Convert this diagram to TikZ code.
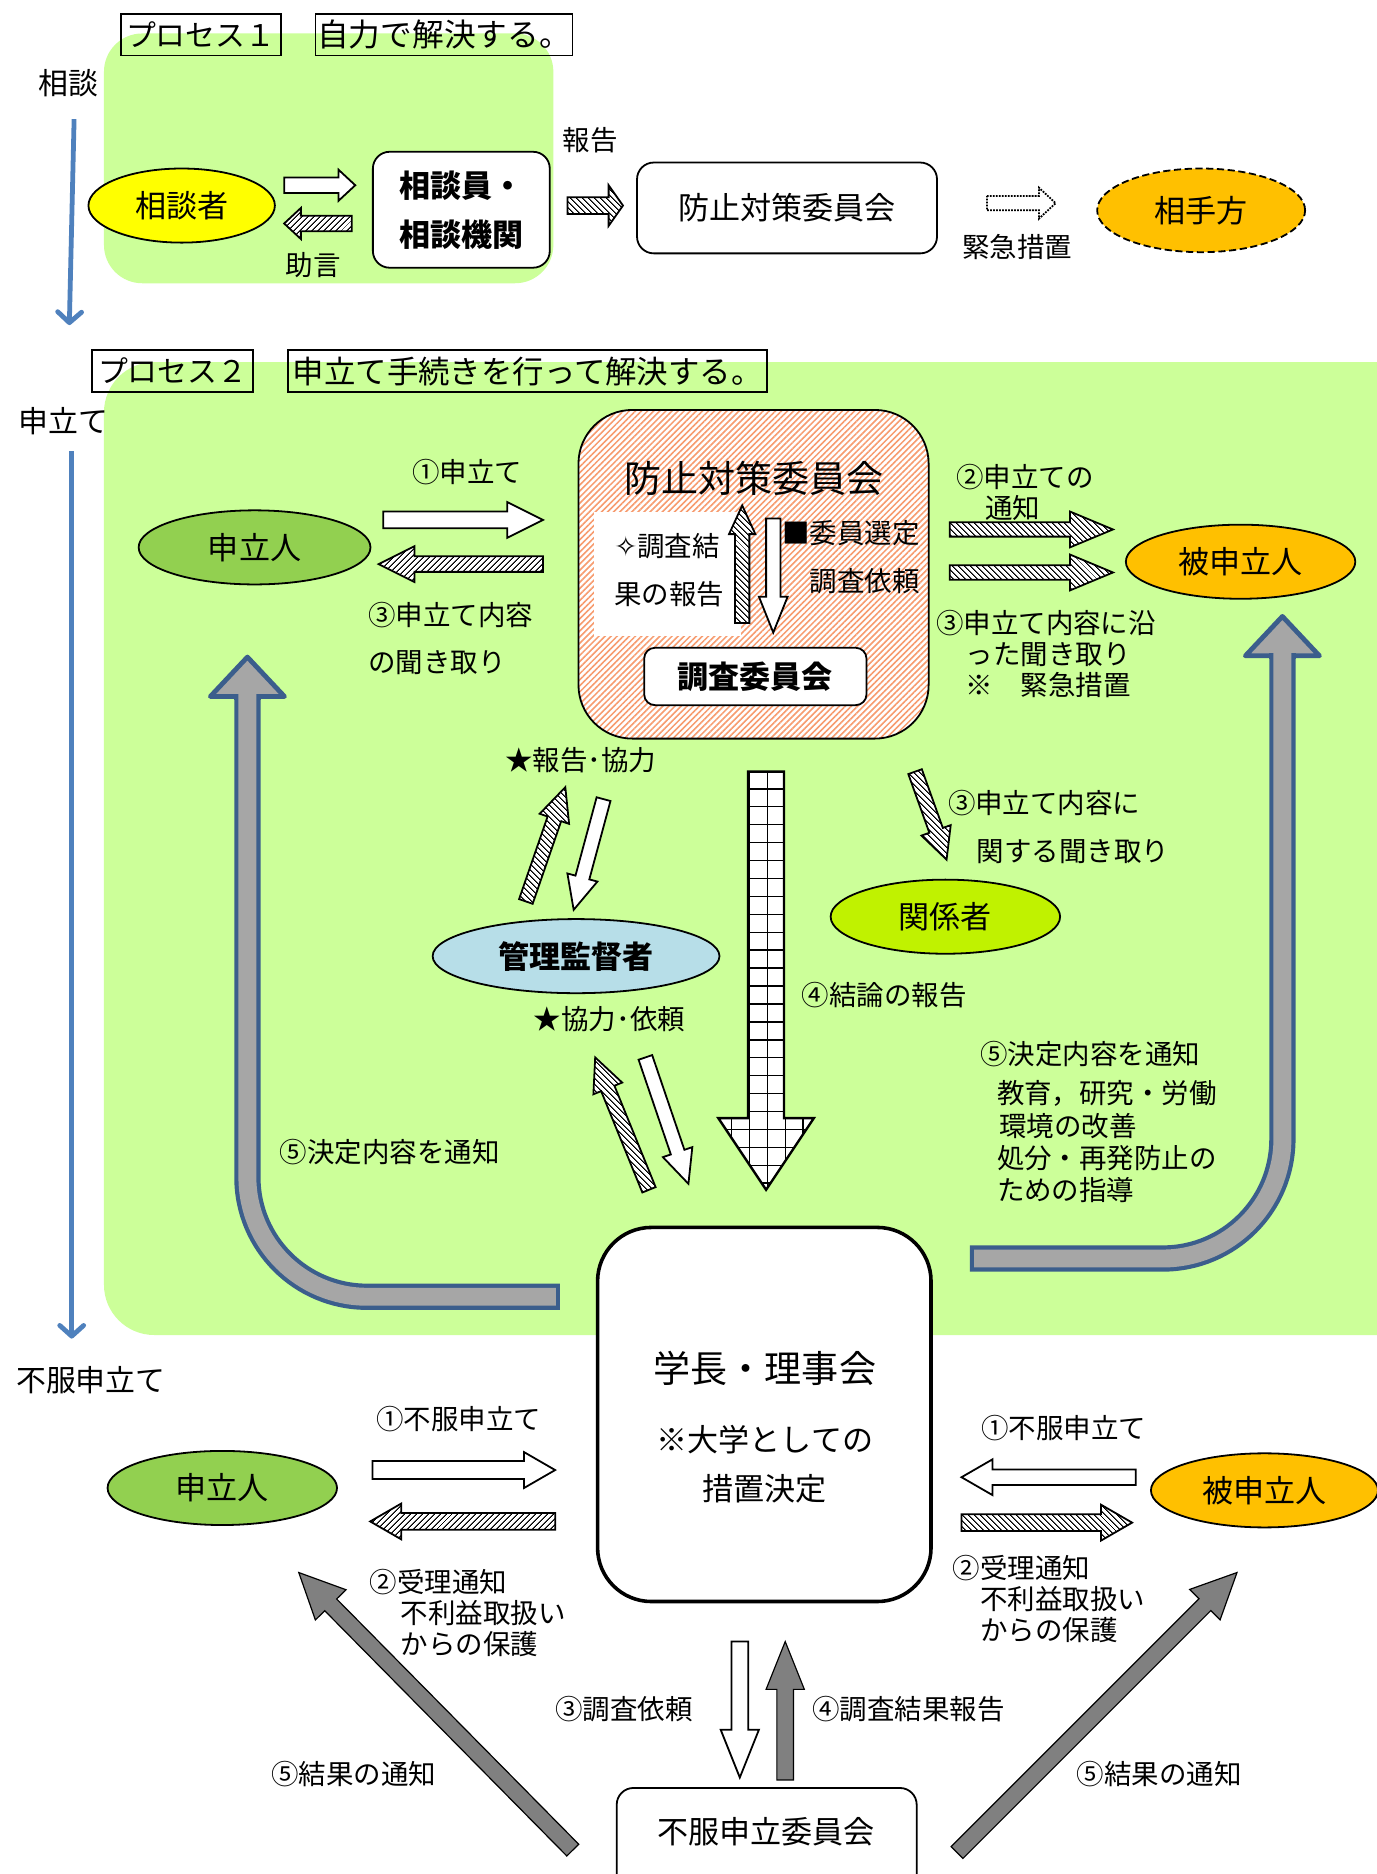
\documentclass[tikz,border=0pt]{standalone}
\usepackage{fontspec}
\setmainfont{Noto Sans CJK JP}
\newfontfamily\symfont{DejaVu Sans}
\usepackage[HTML]{xcolor}
\usepackage{tikz}
\usetikzlibrary{positioning, calc, shapes.geometric, patterns.meta, arrows.meta}

\definecolor{bggreen}{HTML}{CCFF99}
\definecolor{flowblue}{HTML}{4F81BD}
\definecolor{applgreen}{HTML}{92D050}
\definecolor{respyellow}{HTML}{FFC000}
\definecolor{consyellow}{HTML}{FFFF00}
\definecolor{supblue}{HTML}{B7DEE8}
\definecolor{relgreen}{HTML}{C0F200}
\definecolor{hatchorange}{HTML}{F79B6E}
\definecolor{curvegray}{HTML}{A6A6A6}
\definecolor{curveedge}{HTML}{3B5E8C}
\definecolor{notegray}{HTML}{808080}

\tikzset{
  note/.style={font=\fontsize{23}{27}\selectfont, inner sep=0pt, align=left},
  stage/.style={font=\fontsize{25}{30}\selectfont, inner sep=0pt},
  tagbox/.style={draw, line width=1.5pt, inner sep=0pt, minimum height=35pt, font=\fontsize{25}{30}\selectfont},
  actor/.style={ellipse, draw, line width=1.5pt, inner sep=0pt, minimum width=192pt, minimum height=62pt, font=\fontsize{26}{30}\selectfont},
  panel/.style={draw, line width=1.5pt, rounded corners=14pt, fill=white, inner sep=0pt, font=\fontsize{26}{41}\selectfont},
  flow/.style={flowblue, line width=4pt, -{Straight Barb[round, length=9pt, width=20pt]}},
  plainarrow/.style={draw, line width=1.5pt, fill=white},
  hatchNE/.style={draw, line width=1.5pt, preaction={fill=white}, pattern={Lines[angle=45, distance=4pt, line width=1pt]}},
  hatchNW/.style={draw, line width=1.5pt, preaction={fill=white}, pattern={Lines[angle=-45, distance=4pt, line width=1pt]}},
  darkarrow/.style={draw, line width=1pt, fill=notegray},
  curveout/.style={curveedge, line width=22pt, rounded corners=100pt},
  curvein/.style={curvegray, line width=15pt, rounded corners=100pt},
}

% block arrow: from, to, head length; then outline with half shaft, half head
\newcommand\arrowpts[3]{%
  \coordinate (ba-s) at (#1);
  \coordinate (ba-e) at (#2);
  \coordinate (ba-q) at ($(ba-e)!#3!(ba-s)$);}
\newcommand\arrowoutline[2]{($(ba-s)!#1!90:(ba-e)$) -- ($(ba-q)!#1!-90:(ba-s)$) -- ($(ba-q)!#2!-90:(ba-s)$) -- (ba-e) -- ($(ba-q)!#2!90:(ba-s)$) -- ($(ba-q)!#1!90:(ba-s)$) -- ($(ba-s)!#1!-90:(ba-e)$) -- cycle}
\newcommand\blockarrow[6][plainarrow]{%
  \arrowpts{#2}{#3}{#6}
  \path[#1] \arrowoutline{#4}{#5};}

\begin{document}
\begin{tikzpicture}[x=1pt, y=-1pt]
\clip (0,0) rectangle (1152,1568);
\fill[white] (0,0) rectangle (1152,1568);

% --- Process 1 ---
\fill[bggreen, rounded corners=32pt] (87,28) rectangle (463,237);
\node[tagbox, minimum width=134pt] (tag1) at (168,29) {プロセス１};
\node[tagbox, minimum width=215pt, font=\fontsize{26.5}{30}\selectfont] (goal1) at (371.5,29) {自力で解決する。};
\node[stage] (stageA) at (57,70) {相談};

\node[actor, fill=consyellow, minimum width=156pt] (consultant) at (152,172) {相談者};
\node[panel, minimum width=148pt, minimum height=97pt, align=left, font=\fontsize{26}{41}\selectfont\bfseries] (counselor) at (386,175.5) {相談員・\\相談機関};
\node[panel, minimum width=251pt, minimum height=76pt] (committee1) at (658.5,174) {防止対策委員会};
\node[actor, fill=respyellow, dash pattern=on 6pt off 3pt, minimum width=174pt, minimum height=70pt] (opponent) at (1005,176) {相手方};

\blockarrow{$(consultant.east)+(7,-17)$}{$(counselor.west)+(-14,-20.5)$}{6.5pt}{13pt}{14pt}
\blockarrow[hatchNE]{$(counselor.west)+(-17,11.5)$}{$(consultant.east)+(7,15)$}{6.5pt}{13pt}{14pt}
\blockarrow[hatchNW]{$(counselor.east)+(14,-3.5)$}{$(committee1.west)+(-11,-2)$}{7pt}{17pt}{12pt}
\blockarrow[plainarrow, densely dotted]{$(committee1.east)+(41,-4)$}{$(opponent.west)+(-34,-6)$}{6pt}{13pt}{14pt}

\node[note] (advice) at (262,222) {助言};
\node[note] (report1) at (494,117) {報告};
\node[note] (urgent1) at (851,207) {緊急措置};

\coordinate (flowAend) at (58,272);
\draw[flow] ($(stageA.south)+(5,18)$) -- (flowAend);

% --- Process 2 ---
\fill[bggreen, rounded corners=42pt] (87,303) rectangle (1200,1117);
\node[tagbox, minimum width=135pt] (tag2) at (144.5,310.5) {プロセス２};
\node[tagbox, minimum width=401pt, font=\fontsize{26.3}{30}\selectfont] (goal2) at (441.5,310.5) {申立て手続きを行って解決する。};
\node[stage] (stageB) at (53,352) {申立て};

\node[actor, fill=applgreen, minimum width=194pt] (applicant) at (213,458) {申立人};
\node[actor, fill=respyellow] (respondent) at (1038,470) {被申立人};

% committee box with hatch
\node[draw, line width=1.5pt, rounded corners=45pt, minimum width=293pt, minimum height=275pt,
  preaction={fill=white}, pattern={Lines[angle=45, distance=3.6pt, line width=1.3pt]}, pattern color=hatchorange] (committee2) at (630.5,480.5) {};
\node[font=\fontsize{31}{36}\selectfont] (c2title) at (631,400) {防止対策委員会};
\fill[white] (497,428) rectangle (620,532);
\node[note, font=\fontsize{23}{40}\selectfont] (c2result) at (560,477) {{\symfont ✧}調査結\\果の報告};
\node[note, align=right, font=\fontsize{23}{40}\selectfont] (c2select) at (712,466) {■委員選定\\調査依頼};
\node[panel, minimum width=186pt, minimum height=48pt, rounded corners=9pt, font=\fontsize{26}{30}\selectfont\bfseries] (subcom) at (632,566) {調査委員会};
\blockarrow[hatchNW]{$(subcom.north)+(-11,-20)$}{$(c2title.south)+(-10,5)$}{6pt}{11pt}{24pt}
\blockarrow{$(c2title.south)+(16,16)$}{$(subcom.north)+(15,-12)$}{6pt}{12pt}{30pt}

% applicant side
\node[note] (step1) at (391,395) {①申立て};
\blockarrow{$(applicant.east)+(10,-23)$}{$(committee2.west)+(-29,-45.5)$}{7pt}{15pt}{30pt}
\blockarrow[hatchNE]{$(committee2.west)+(-29,-8.5)$}{$(applicant.east)+(6,14)$}{6.5pt}{15pt}{30pt}
\node[note, anchor=north west, font=\fontsize{23}{39}\selectfont] (step3a) at (308,504) {③申立て内容\\の聞き取り};

% respondent side
\node[note, anchor=north west, font=\fontsize{23}{26}\selectfont] (step2) at (800,388) {②申立ての\\\hspace{24pt}通知};
\blockarrow[hatchNW]{$(committee2.east)+(17,-37.5)$}{$(respondent.west)+(-10,-27)$}{6pt}{15pt}{36pt}
\blockarrow[hatchNW]{$(committee2.east)+(17,-1.5)$}{$(respondent.west)+(-10,9)$}{6pt}{15pt}{36pt}
\node[note, anchor=north west, font=\fontsize{23}{26}\selectfont] (step3b) at (783,510) {③申立て内容に沿\\\hspace{25pt}った聞き取り\\\hspace{25pt}※\hspace{23pt}緊急措置};

% supervisor
\node[actor, fill=supblue, minimum width=240pt, font=\fontsize{26}{30}\selectfont\bfseries] (supervisor) at (482,800) {管理監督者};
\node[note] (coop1) at (486,636) {★報告･協力};
\blockarrow[hatchNW]{$(supervisor.north)+(-42,-14)$}{$(committee2.south)+(-157.5,40)$}{6pt}{13pt}{28pt}
\blockarrow{$(committee2.south)+(-125.5,50)$}{$(supervisor.north)+(-2,-7)$}{6pt}{13pt}{28pt}
\node[note] (coop2) at (510,853) {★協力･依頼};

% related persons
\node[actor, fill=relgreen] (related) at (791,767) {関係者};
\blockarrow[hatchNW]{$(committee2.south east)+(-12,27)$}{$(related.north)+(1,-16)$}{6pt}{13pt}{26pt}
\node[note, anchor=north west, font=\fontsize{23}{40}\selectfont] (step3c) at (793,661) {③申立て内容に\\\hspace{24pt}関する聞き取り};

% president
\node[draw, line width=3pt, rounded corners=45pt, fill=white, minimum width=279pt, minimum height=313pt] (president) at (639.5,1183.5) {};
\node[font=\fontsize{31}{36}\selectfont] (presTitle) at (640,1145) {学長・理事会};
\node[font=\fontsize{26}{41}\selectfont, align=center, inner sep=0pt] (presNote) at (640,1225) {※大学としての\\措置決定};

\blockarrow[hatchNW]{$(president.north)+(-96.5,-30)$}{$(supervisor.south)+(16,53)$}{6pt}{13pt}{28pt}
\blockarrow{$(supervisor.south)+(58,53)$}{$(president.north)+(-63.5,-35)$}{6pt}{13pt}{28pt}

% conclusion arrow (grid fill)
\arrowpts{$(committee2.south)+(10.5,27)$}{$(president.north)+(1.5,-30)$}{60pt}
\fill[white] \arrowoutline{15pt}{40pt};
\begin{scope}
\clip \arrowoutline{15pt}{40pt};
\foreach \gx in {597,612,...,687} \draw[line width=1.2pt] (\gx,640) -- (\gx,1000);
\foreach \gy in {645,660,...,1000} \draw[line width=1.2pt] (590,\gy) -- (700,\gy);
\end{scope}
\draw[line width=2pt] \arrowoutline{15pt}{40pt};
\node[note] (step4) at (740,833) {④結論の報告};

% decision notices
\node[note, anchor=north west, font=\fontsize{23}{27}\selectfont] (step5b) at (820,871) {⑤決定内容を通知\\[6pt]\hspace{14pt}教育，研究・労働\\\hspace{16pt}環境の改善\\\hspace{14pt}処分・再発防止の\\\hspace{14pt}ための指導};
\node[note] (step5a) at (326,964) {⑤決定内容を通知};

\coordinate (retL) at ($(president.west)+(-30,-98.5)$);
\coordinate (tipL) at ($(applicant.south)+(-6,60)$);
\draw[curveout] (retL) -- (retL -| tipL) -- ($(tipL)+(0,33)$);
\filldraw[fill=curvegray, draw=curveedge, line width=4pt, line join=round] ($(tipL)+(-31,33)$) -- (tipL) -- ($(tipL)+(31,33)$) -- cycle;
\draw[curveedge, line width=22pt] ($(tipL)+(0,31)$) -- ($(tipL)+(0,36)$);
\draw[curvein, shorten <=3.5pt] (retL) -- (retL -| tipL) -- ($(tipL)+(0,30)$);

\coordinate (retR) at ($(president.east)+(31,-130.5)$);
\coordinate (tipR) at ($(respondent.south)+(35,14)$);
\draw[curveout] (retR) -- (retR -| tipR) -- ($(tipR)+(0,33)$);
\filldraw[fill=curvegray, draw=curveedge, line width=4pt, line join=round] ($(tipR)+(-31,33)$) -- (tipR) -- ($(tipR)+(31,33)$) -- cycle;
\draw[curveedge, line width=22pt] ($(tipR)+(0,31)$) -- ($(tipR)+(0,36)$);
\draw[curvein, shorten <=3.5pt] (retR) -- (retR -| tipR) -- ($(tipR)+(0,30)$);

\coordinate (flowBend) at (60,1120);
\draw[flow] ($(stageB.south)+(7,14)$) -- (flowBend);

% --- Appeal ---
\node[stage] (stageC) at (76,1155) {不服申立て};

\node[actor, fill=applgreen] (applicant2) at (186,1245) {申立人};
\node[actor, fill=respyellow, minimum width=190pt] (respondent2) at (1058,1247) {被申立人};
\node[panel, minimum width=251pt, minimum height=90pt] (appeal) at (641.5,1541) {};
\node[font=\fontsize{26}{30}\selectfont] (appealTxt) at (641,1533) {不服申立委員会};

\node[note] (appeal1a) at (384,1187) {①不服申立て};
\blockarrow{$(applicant2.east)+(29,-15)$}{$(president.west)+(-34,46.5)$}{7.5pt}{15pt}{26pt}
\blockarrow[hatchNE]{$(president.west)+(-34,89.5)$}{$(applicant2.east)+(27,28)$}{7pt}{15pt}{26pt}
\node[note, anchor=north west, font=\fontsize{23}{26}\selectfont] (appeal2a) at (309,1313) {②受理通知\\\hspace{26pt}不利益取扱い\\\hspace{26pt}からの保護};

\node[note] (appeal1b) at (890,1195) {①不服申立て};
\blockarrow{$(respondent2.west)+(-12,-11)$}{$(president.east)+(24,52.5)$}{6.5pt}{15pt}{26pt}
\blockarrow[hatchNW]{$(president.east)+(24,90.5)$}{$(respondent2.west)+(-15,27)$}{7pt}{15pt}{26pt}
\node[note, anchor=north west, font=\fontsize{23}{26}\selectfont] (appeal2b) at (797,1301) {②受理通知\\\hspace{23pt}不利益取扱い\\\hspace{23pt}からの保護};

\blockarrow{$(president.south)+(-20.5,32)$}{$(appeal.north)+(-22.5,-8)$}{7pt}{16pt}{40pt}
\blockarrow[darkarrow]{$(appeal.north)+(15.5,-6)$}{$(president.south)+(17.5,32)$}{7pt}{16pt}{40pt}
\node[note] (appeal3) at (522,1430) {③調査依頼};
\node[note] (appeal4) at (760,1430) {④調査結果報告};

\blockarrow[darkarrow]{$(appeal.west)+(-36,7)$}{$(applicant2.south)+(64,39)$}{7pt}{18pt}{38pt}
\blockarrow[darkarrow]{$(appeal.east)+(33,9)$}{$(respondent2.south)+(-23,37)$}{7pt}{18pt}{38pt}
\node[note] (appeal5a) at (296,1484) {⑤結果の通知};
\node[note] (appeal5b) at (970,1484) {⑤結果の通知};

\end{tikzpicture}
\end{document}
